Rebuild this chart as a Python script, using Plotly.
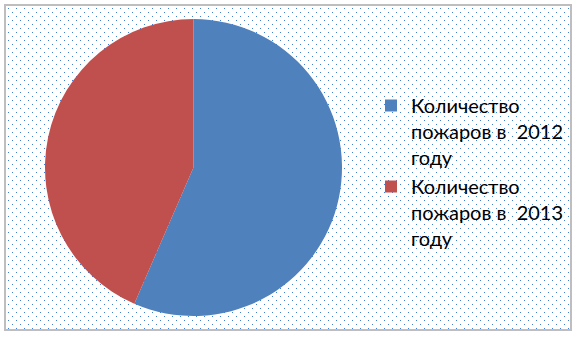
import base64
import plotly.graph_objects as go

labels = ["Количество<br>пожаров в\u00a0 2012<br>году", "Количество<br>пожаров в\u00a0 2013<br>году"]
values = [13, 10]
colors = ["#4F81BD", "#C0504D"]

W, H = 577, 337

# dotted background pattern + grey frame as an SVG image
svg = f'''<svg xmlns="http://www.w3.org/2000/svg" width="{W}" height="{H}" viewBox="0 0 {W} {H}" shape-rendering="crispEdges">
<defs><pattern id="p" x="0" y="0" width="8" height="8" patternUnits="userSpaceOnUse">
<rect x="0" y="0" width="1" height="1" fill="#3F7FD4"/><rect x="4" y="4" width="1" height="1" fill="#3F7FD4"/>
</pattern></defs>
<rect x="0" y="0" width="{W}" height="{H}" fill="#ffffff"/>
<rect x="5" y="5" width="566" height="325" fill="url(#p)"/>
<rect x="5" y="5" width="566" height="325" fill="none" stroke="#BEBEBE" stroke-width="2"/>
</svg>'''
src = "data:image/svg+xml;base64," + base64.b64encode(svg.encode("utf-8")).decode()

cx, cy, r = 193.5, 167.5, 148.5

fig = go.Figure(go.Pie(
    labels=labels,
    values=values,
    marker=dict(colors=colors, line=dict(width=0)),
    sort=False,
    direction="clockwise",
    rotation=0,
    textinfo="none",
    hoverinfo="label+value",
    domain=dict(x=[(cx - r) / W, (cx + r) / W], y=[(H - cy - r) / H, (H - cy + r) / H]),
))

fig.update_layout(
    width=W, height=H,
    margin=dict(l=0, r=0, t=0, b=0),
    paper_bgcolor="rgba(0,0,0,0)",
    plot_bgcolor="rgba(0,0,0,0)",
    font=dict(family="Lato, 'Liberation Sans', sans-serif", size=20, color="#000000"),
    legend=dict(x=371 / W, xanchor="left", y=1 - 172 / H, yanchor="middle",
                valign="top", bgcolor="rgba(0,0,0,0)", borderwidth=0),
    images=[dict(source=src, xref="paper", yref="paper", x=0, y=1, sizex=1, sizey=1,
                 xanchor="left", yanchor="top", sizing="stretch", layer="below")],
)

fig.write_html("out.html")
